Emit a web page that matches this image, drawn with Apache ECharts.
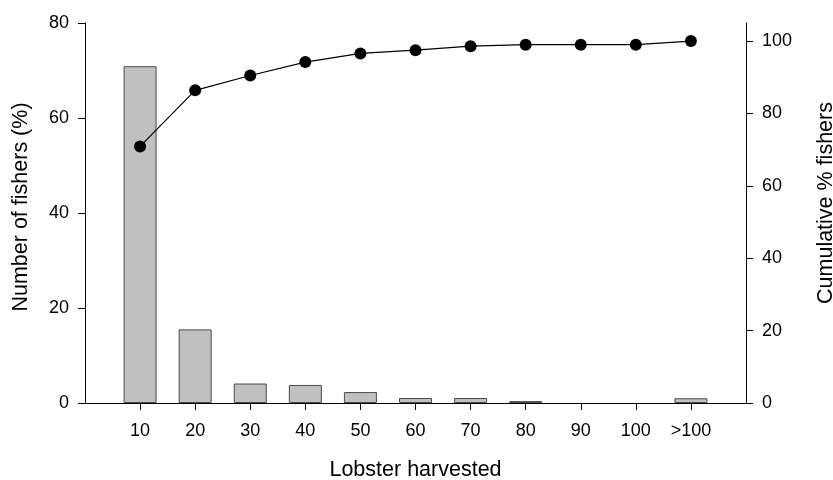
<!DOCTYPE html>
<html>
<head>
<meta charset="utf-8">
<script src="https://cdn.jsdelivr.net/npm/echarts@6/dist/echarts.min.js"></script>
<style>html,body{margin:0;padding:0;background:#fff}#c{width:833px;height:480px}</style>
</head>
<body>
<div id="c"></div>
<script>
const categories = ['10','20','30','40','50','60','70','80','90','100','>100'];
const pctFishers = [70.9, 15.5, 4.1, 3.8, 2.3, 1.05, 1.05, 0.4, 0, 0, 1.0];
const cumPct = [70.9, 86.4, 90.5, 94.2, 96.6, 97.5, 98.6, 99.0, 99.0, 99.0, 100];
const leftTicks = [0, 20, 40, 60, 80];
const rightTicks = [0, 20, 40, 60, 80, 100];

const cats = [''].concat(categories, ['']);
const pad = a => [null].concat(a, [null]);
const barData = pad(pctFishers).map(v => (v === 0 ? {value: v, itemStyle: {borderWidth: 0}} : v));
const FONT = 'Liberation Sans, Arial, sans-serif';
const chart = echarts.init(document.getElementById('c'), null, {renderer: 'canvas'});
chart.setOption({
  animation: false,
  backgroundColor: '#fff',
  grid: {left: 85, right: 87, top: 23, bottom: 77, containLabel: false, outerBoundsMode: 'none'},
  xAxis: {
    type: 'category', data: cats, boundaryGap: false,
    name: 'Lobster harvested', nameLocation: 'middle', nameGap: 56,
    nameTextStyle: {fontFamily: FONT, fontSize: 21.5, color: '#000'},
    axisLine: {lineStyle: {color: '#000', width: 1}},
    axisTick: {show: true, length: 7, interval: (i) => i > 0 && i < cats.length - 1, lineStyle: {color: '#000'}},
    axisLabel: {interval: 0, margin: 19, fontFamily: FONT, fontSize: 18, color: '#000'},
    splitLine: {show: false}
  },
  yAxis: [{
    type: 'value', min: 0, max: 80, interval: 20, position: 'left',
    name: 'Number of fishers (%)', nameLocation: 'middle', nameGap: 53, nameRotate: 90,
    nameTextStyle: {fontFamily: FONT, fontSize: 21.5, color: '#000', padding: [0, 0, 0, 12]},
    axisLine: {show: true, lineStyle: {color: '#000', width: 1}},
    axisTick: {show: true, length: 7, lineStyle: {color: '#000'}, customValues: leftTicks},
    axisLabel: {margin: 16, fontFamily: FONT, fontSize: 18, color: '#000', customValues: leftTicks},
    splitLine: {show: false}
  }, {
    type: 'value', min: 0, max: 105, position: 'right',
    name: 'Cumulative % fishers', nameLocation: 'middle', nameGap: 69, nameRotate: 90,
    nameTextStyle: {fontFamily: FONT, fontSize: 21.5, color: '#000', padding: [0, 0, 0, 20]},
    axisLine: {show: true, lineStyle: {color: '#000', width: 1}},
    axisTick: {show: true, length: 7, lineStyle: {color: '#000'}, customValues: rightTicks},
    axisLabel: {margin: 16, fontFamily: FONT, fontSize: 18, color: '#000', customValues: rightTicks},
    splitLine: {show: false}
  }],
  series: [{
    type: 'bar', yAxisIndex: 0, data: barData, barWidth: 33,
    itemStyle: {color: '#c0c0c0', borderColor: '#4a4a4a', borderWidth: 1}
  }, {
    type: 'line', yAxisIndex: 1, data: pad(cumPct),
    symbol: 'circle', symbolSize: 12, connectNulls: false,
    lineStyle: {color: '#000', width: 1.2},
    itemStyle: {color: '#000'}, z: 5
  }]
});
</script>
</body>
</html>
